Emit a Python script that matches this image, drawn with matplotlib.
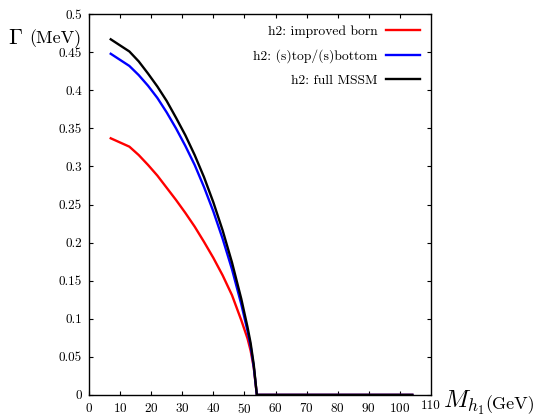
import matplotlib
matplotlib.use("Agg")
import matplotlib.pyplot as plt

# M_h1 [GeV] and decay width Gamma [MeV]
mass = [7, 13, 16, 19, 22, 25, 28, 31, 34, 37, 40, 43, 46, 49, 51, 52, 53, 54,
        60, 70, 80, 90, 100, 104]
born = [0.337, 0.326, 0.315, 0.302, 0.288, 0.272, 0.256, 0.239, 0.221, 0.201,
        0.180, 0.157, 0.131, 0.098, 0.074, 0.058, 0.036, 0.0,
        0, 0, 0, 0, 0, 0]
stop_sbottom = [0.448, 0.432, 0.420, 0.406, 0.390, 0.371, 0.350, 0.327, 0.302,
                0.273, 0.241, 0.205, 0.165, 0.119, 0.084, 0.064, 0.037, 0.0,
                0, 0, 0, 0, 0, 0]
full_mssm = [0.467, 0.451, 0.438, 0.422, 0.405, 0.386, 0.364, 0.341, 0.315,
             0.286, 0.253, 0.216, 0.174, 0.126, 0.089, 0.068, 0.040, 0.0,
             0, 0, 0, 0, 0, 0]

labels = ["h2: improved born", "h2: (s)top/(s)bottom", "h2: full MSSM"]
colors = ["#ff0000", "#0000ff", "#000000"]

plt.rcParams["font.family"] = "serif"
plt.rcParams["font.serif"] = ["cmr10", "DejaVu Serif"]
plt.rcParams["mathtext.fontset"] = "cm"
plt.rcParams["axes.formatter.use_mathtext"] = True

fig = plt.figure(figsize=(5.36, 4.17), dpi=100)
ax = fig.add_axes([0.166, 0.053, 0.638, 0.913])

for ys, lab, c in zip([born, stop_sbottom, full_mssm], labels, colors):
    ax.plot(mass, ys, color=c, lw=1.7, label=lab)

ax.set_xlim(0, 110)
ax.set_ylim(0, 0.5)
ax.set_xticks(range(0, 101, 10))
ax.set_yticks([i * 0.05 for i in range(11)])
ax.set_yticklabels(["0", "0.05", "0.1", "0.15", "0.2", "0.25", "0.3", "0.35",
                    "0.4", "0.45", "0.5"])
ax.tick_params(direction="in", top=True, right=True, labelsize=9.5, length=3,
               width=0.8, pad=5)
for s in ax.spines.values():
    s.set_linewidth(1.0)

# x-axis label sits to the right of the axes, after the last tick value
ax.text(1.0, -0.028, "110", transform=ax.transAxes, fontsize=9.5,
        ha="center", va="center")
ax.text(1.034, -0.02, r"$M_{h_1}$", transform=ax.transAxes, fontsize=18,
        ha="left", va="center")
ax.text(1.158, -0.025, "(GeV)", transform=ax.transAxes, fontsize=13,
        ha="left", va="center")

fig.text(0.014, 0.908, r"$\Gamma$", fontsize=16, ha="left", va="center")
fig.text(0.054, 0.908, "(MeV)", fontsize=13, ha="left", va="center")

ax.legend(loc="upper right", markerfirst=False, frameon=False, fontsize=9.8,
          handlelength=2.5, labelspacing=0.85, borderaxespad=0.4,
          handletextpad=0.6)

fig.savefig("out.png", dpi=100)
